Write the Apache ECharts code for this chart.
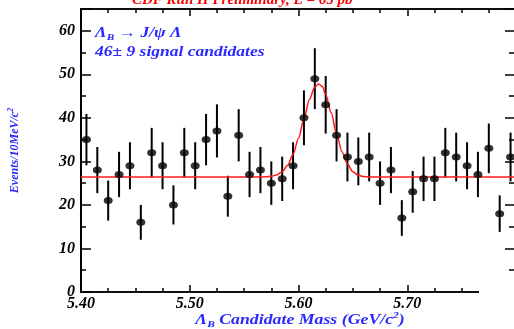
<!DOCTYPE html>
<html><head><meta charset="utf-8">
<script src="https://cdn.jsdelivr.net/npm/echarts@6/dist/echarts.min.js"></script>
<style>html,body{margin:0;padding:0;background:#fff}#c{width:514px;height:329px}</style>
</head><body><div id="c"></div>
<script>
// Bin centres (GeV/c^2), 10 MeV bins
const massBins = [5.405,5.415,5.425,5.435,5.445,5.455,5.465,5.475,5.485,5.495,
                  5.505,5.515,5.525,5.535,5.545,5.555,5.565,5.575,5.585,5.595,
                  5.605,5.615,5.625,5.635,5.645,5.655,5.665,5.675,5.685,5.695,
                  5.705,5.715,5.725,5.735,5.745,5.755,5.765,5.775,5.785,5.795];
const events   = [35,28,21,27,29,16,32,29,20,32,
                  29,35,37,22,36,27,28,25,26,29,
                  40,49,43,36,31,30,31,25,28,17,
                  23,26,26,32,31,29,27,33,18,31];
const errors   = [5.9,5.3,4.6,5.2,5.4,4.0,5.7,5.4,4.5,5.7,
                  5.4,5.9,6.1,4.7,6.0,5.2,5.3,5.0,5.1,5.4,
                  6.3,7.0,6.6,6.0,5.6,5.5,5.6,5.0,5.3,4.1,
                  4.8,5.1,5.1,5.7,5.6,5.4,5.2,5.7,4.2,5.6];
// Fit curve (flat background + peak)
const fitMass  = [5.400,5.565,5.570,5.575,5.580,5.585,5.590,5.595,5.600,5.605,5.610,5.615,5.6185,
                  5.622,5.625,5.630,5.635,5.640,5.645,5.650,5.655,5.660,5.665,5.670,5.800];
const fitValue = [26.4,26.4,26.45,26.57,26.9,27.6,29.1,31.6,35.3,39.8,44.2,47.1,47.8,
                  47.2,45.4,41.2,36.3,32.2,29.4,27.6,26.8,26.5,26.42,26.4,26.4];
const xMajorTicks = [5.40,5.50,5.60,5.70];
const yMajorTicks = [0,10,20,30,40,50,60];

const serif = 'Liberation Serif';
const blue = '#2a2aff';
const chart = echarts.init(document.getElementById('c'), null, {renderer:'canvas'});

const lbl = {fontFamily: serif, fontStyle:'italic', fontWeight:'bold', fontSize:16, color:'#000'};
function xAx(pos, interval, len, showLabel){
  return {
    type:'value', position:pos, min:5.40, max:5.80, interval:interval,
    axisLine:{show:true, onZero:false, lineStyle:{color:'#000', width:1.5}},
    axisTick:{show:true, inside:true, length:len, lineStyle:{color:'#000', width:1.5}},
    axisLabel:{show:showLabel, margin:4, ...lbl,
      formatter: v => xMajorTicks.some(t => Math.abs(t-v) < 1e-6) ? v.toFixed(2) : ''},
    splitLine:{show:false}
  };
}
function yAx(pos, interval, len, showLabel, extra){
  return Object.assign({
    type:'value', position:pos, min:0, max:65, interval:interval,
    axisLine:{show:true, onZero:false, lineStyle:{color:'#000', width:2}},
    axisTick:{show:true, inside:true, length:len, lineStyle:{color:'#000', width:1.5}},
    axisLabel:{show:showLabel, margin:6, ...lbl,
      formatter: v => yMajorTicks.indexOf(v) >= 0 ? String(v) : ''},
    splitLine:{show:false}
  }, extra||{});
}

const bi = {fontFamily:serif, fontStyle:'italic', fontWeight:'bold'};
const option = {
  backgroundColor:'#fff',
  animation:false,
  grid:{left:81, top:9, width:435, height:283, containLabel:false, outerBoundsMode:'none'},
  xAxis:[
    xAx('bottom', 0.025, 4, false),
    xAx('bottom', 0.1, 7, true),
    xAx('top', 0.025, 4, false),
    xAx('top', 0.1, 7, false)
  ],
  yAxis:[
    yAx('left', 5, 5, false),
    yAx('left', 10, 10, true, {
      name:'{l|Events/10MeV/c}{p|2}', nameLocation:'middle', nameGap:58,
      nameTextStyle:{rich:{
        l:{...bi, fontSize:12, color:blue, lineHeight:16},
        p:{...bi, fontSize:8, color:blue, verticalAlign:'top', lineHeight:10}
      }}
    }),
    yAx('right', 5, 7, false),
    yAx('right', 10, 11, false)
  ],
  series:[
    {
      type:'custom', xAxisIndex:0, yAxisIndex:0, z:2,
      data: massBins.map((m,i)=>[m, events[i]-errors[i], events[i]+errors[i]]),
      encode:{x:0, y:[1,2]},
      renderItem:(params, api)=>{
        const lo = api.coord([api.value(0), api.value(1)]);
        const hi = api.coord([api.value(0), api.value(2)]);
        return {type:'line', shape:{x1:lo[0], y1:lo[1], x2:hi[0], y2:hi[1]},
                style:{stroke:'#000', lineWidth:2}};
      }
    },
    {
      type:'line', xAxisIndex:0, yAxisIndex:0, z:3,
      data: fitMass.map((m,i)=>[m, fitValue[i]]),
      showSymbol:false, smooth:0.3, smoothMonotone:'x',
      lineStyle:{color:'#ff1a1a', width:1.5}
    },
    {
      type:'scatter', xAxisIndex:0, yAxisIndex:0, z:4,
      data: massBins.map((m,i)=>[m, events[i]]),
      symbol:'circle', symbolSize:[9,7],
      itemStyle:{color:'#000'}
    }
  ],
  graphic:[
    {type:'rect', z:100, shape:{x:479, y:282, width:40, height:14}, style:{fill:'#fff'}},
    {type:'text', z:100, x:132, y:9,
      style:{text:'{t|CDF Run II Preliminary, L = 65 pb}{p|-1}', verticalAlign:'bottom',
        rich:{
          t:{...bi, fontSize:15, fill:'#ff0000', lineHeight:18},
          p:{...bi, fontSize:10, fill:'#ff0000', verticalAlign:'top', lineHeight:12}
        }}},
    {type:'text', z:100, x:95, y:33, scaleX:1.25,
      style:{text:'{l|Λ}{s|B}{l| → J/ψ Λ}', verticalAlign:'middle',
        rich:{
          l:{...bi, fontSize:14, fill:blue, lineHeight:18},
          s:{...bi, fontSize:9, fill:blue, verticalAlign:'bottom', lineHeight:12}
        }}},
    {type:'text', z:100, x:95, y:52, scaleX:1.25,
      style:{text:'46± 9 signal candidates', verticalAlign:'middle',
        font:'italic bold 14px "Liberation Serif"', fill:blue}},
    {type:'text', z:100, x:300, y:320, scaleX:1.27,
      style:{text:'{l|Λ}{s|B}{l| Candidate Mass (GeV/c}{p|2}{l|)}', align:'center', verticalAlign:'middle',
        rich:{
          l:{...bi, fontSize:14, fill:blue, lineHeight:18},
          s:{...bi, fontSize:9, fill:blue, verticalAlign:'bottom', lineHeight:12},
          p:{...bi, fontSize:9, fill:blue, verticalAlign:'top', lineHeight:12}
        }}}
  ]
};
chart.setOption(option);
</script></body></html>
